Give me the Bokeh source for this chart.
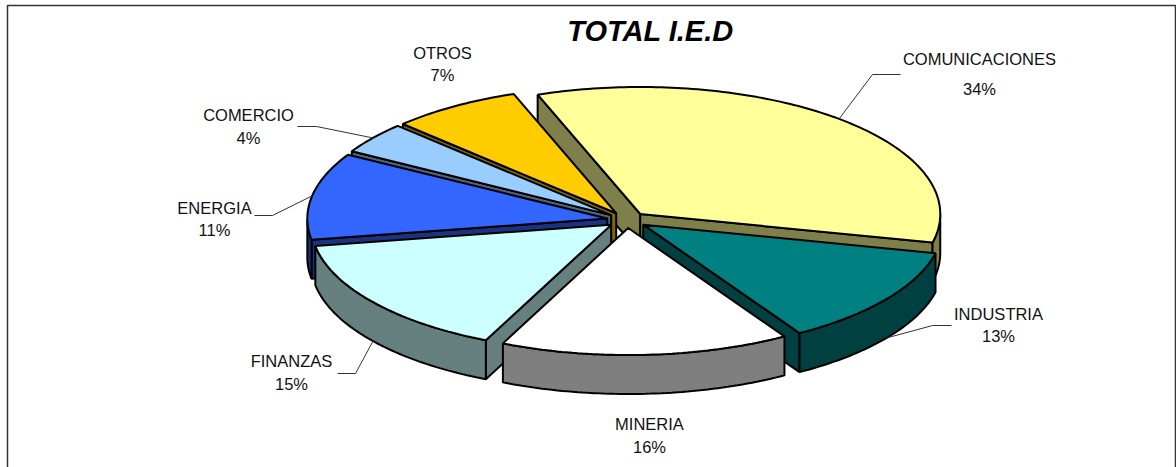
import math
from bokeh.embed import file_html
from bokeh.models import ColumnDataSource
from bokeh.plotting import figure
from bokeh.resources import INLINE
from bokeh.core.properties import value

# ---- data ----
TITLE = "TOTAL I.E.D"
CATEGORIES = ["COMUNICACIONES", "INDUSTRIA", "MINERIA", "FINANZAS", "ENERGIA", "COMERCIO", "OTROS"]
SHARES = [34.0, 12.6, 15.5, 15.4, 11.0, 4.0, 7.0]
LABELS = ["34%", "13%", "16%", "15%", "11%", "4%", "7%"]
COLORS = ["#FFFF99", "#008080", "#FFFFFF", "#CCFFFF", "#3366FF", "#99CCFF", "#FFCC00"]

# ---- layout ----
W, H = 1176, 467
CX, CY = 626.5, 219.5
RX, RY = 300, 127
EX, EY = 20, 8
DEPTH = 39
START = 110.0
DRAW_ORDER = [0, 6, 5, 4, 3, 1, 2]
LABEL_POS = {"COMUNICACIONES": (979, 58, 88), "INDUSTRIA": (998, 313, 335), "MINERIA": (649, 423, 446),
             "FINANZAS": (291, 360, 383), "ENERGIA": (214, 207, 229), "COMERCIO": (248, 114, 137),
             "OTROS": (442, 52, 74)}
LEADER_ELBOW = {"COMUNICACIONES": [(900, 74), (872, 74)], "INDUSTRIA": [(951, 325), (932, 325)],
                "FINANZAS": [(337, 373), (355, 373)], "ENERGIA": [(254, 215), (272, 215)],
                "COMERCIO": [(297, 126), (316, 126)]}


def darken(c):
    return "#%02X%02X%02X" % tuple(int(c[i:i + 2], 16) // 2 for i in (1, 3, 5))


p = figure(width=W, height=H, x_range=(0, W), y_range=(H, 0), toolbar_location=None,
           output_backend="svg", min_border=0)
p.axis.visible = False
p.grid.visible = False
p.outline_line_color = None

p.quad(left=[7], right=[1175], top=[5], bottom=[H + 20], fill_color="white", line_color="#333333", line_width=1.5)

total = sum(SHARES)
wedges = []
a = START
for share in SHARES:
    b = a - 360.0 * share / total
    wedges.append((a, b))
    a = b


def geom(i):
    a, b = wedges[i]
    m = math.radians((a + b) / 2)
    return CX + EX * math.cos(m), CY - EY * math.sin(m), m


def rim(cx, cy, deg):
    t = math.radians(deg)
    return cx + RX * math.cos(t), cy - RY * math.sin(t)


xs, ys, fills = [], [], []
for i in DRAW_ORDER:
    a, b = wedges[i]
    ax, ay, _ = geom(i)
    wall = darken(COLORS[i])
    # radial faces turned towards the viewer
    for deg, sign in ((a, 1), (b, -1)):
        rx, ry = rim(ax, ay, deg)
        t = math.radians(deg + sign * 90)
        if math.sin(t) < 0:
            xs.append([ax, rx, rx, ax])
            ys.append([ay, ry, ry + DEPTH, ay + DEPTH])
            fills.append(wall)
    # outer wall: the part of the arc on the near half
    n = max(2, int(abs(a - b)))
    arc = [a + (b - a) * k / n for k in range(n + 1)]
    near = [d for d in arc if math.sin(math.radians(d)) <= 0]
    if len(near) >= 2:
        px = [rim(ax, ay, d) for d in near]
        xs.append([q[0] for q in px] + [q[0] for q in reversed(px)])
        ys.append([q[1] for q in px] + [q[1] + DEPTH for q in reversed(px)])
        fills.append(wall)
    # top
    px = [rim(ax, ay, d) for d in arc]
    xs.append([ax] + [q[0] for q in px])
    ys.append([ay] + [q[1] for q in px])
    fills.append(COLORS[i])

p.patches(xs="xs", ys="ys", fill_color="fills", line_color="black", line_width=2,
          source=ColumnDataSource(dict(xs=xs, ys=ys, fills=fills)))

# leaders
lx, ly = [], []
for i, name in enumerate(CATEGORIES):
    if name in LEADER_ELBOW:
        ax, ay, m = geom(i)
        deg = math.degrees(m)
        ex, ey = rim(ax, ay, deg)
        if math.sin(m) < 0:
            ey += DEPTH
        pts = LEADER_ELBOW[name] + [(ex, ey)]
        lx.append([q[0] for q in pts])
        ly.append([q[1] for q in pts])
p.multi_line(lx, ly, line_color="#333333", line_width=1)

# texts
tx, ty, tt = [], [], []
for name, lab in zip(CATEGORIES, LABELS):
    x, y1, y2 = LABEL_POS[name]
    tx += [x, x]
    ty += [y1, y2]
    tt += [name, lab]
p.text(tx, ty, text=tt, text_font=value("Liberation Sans"), text_font_size=value("16.5px"),
       text_align="center", text_baseline="middle", text_color="#111111")
p.text([650], [30.5], text=[TITLE], text_font=value("Liberation Sans"), text_font_size=value("29px"),
       text_font_style="bold italic", text_align="center", text_baseline="middle", text_color="black")

open("out.html", "w").write(file_html(p, INLINE))
